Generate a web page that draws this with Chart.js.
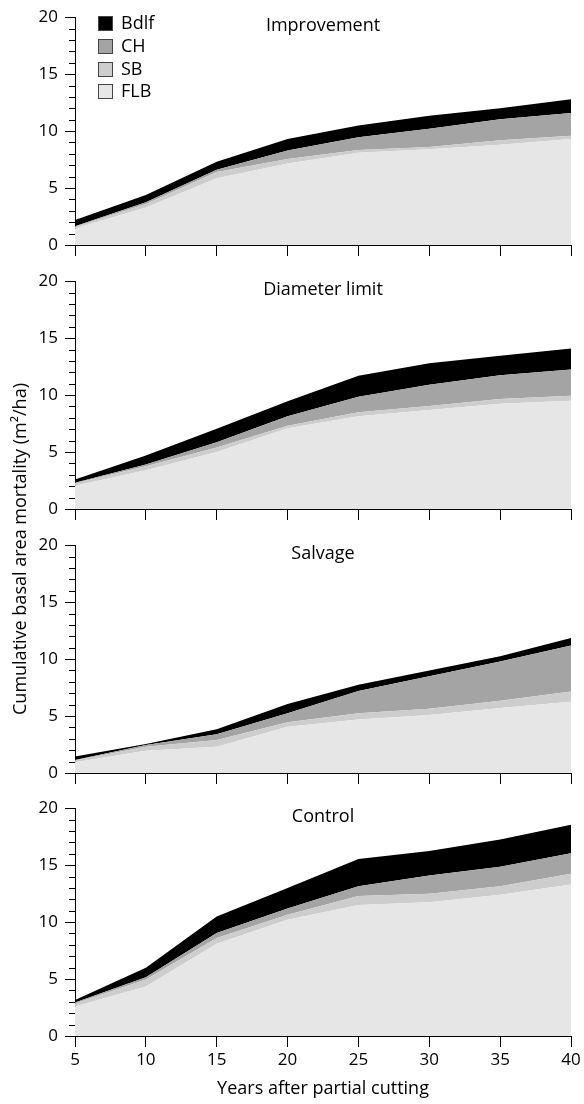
<!DOCTYPE html>
<html>
<head>
<meta charset="utf-8">
<script src="https://cdn.jsdelivr.net/npm/chart.js@4.4.1/dist/chart.umd.min.js"></script>
<style>
  html, body { margin: 0; padding: 0; background: #fff; }
  #wrap { position: relative; width: 584px; height: 1104px; overflow: hidden; }
  canvas { position: absolute; left: 0; }
  #ytitle {
    position: absolute; left: 19px; top: 549px;
    transform: translate(-50%, -50%) rotate(-90deg);
    white-space: nowrap; font-family: "Open Sans", sans-serif; font-size: 18px; color: #000;
  }
</style>
</head>
<body>
<div id="wrap">
  <canvas id="c0" width="584" height="264" style="top:0px"></canvas>
  <canvas id="c1" width="584" height="264" style="top:264px"></canvas>
  <canvas id="c2" width="584" height="264" style="top:528px"></canvas>
  <canvas id="c3" width="584" height="313" style="top:791px"></canvas>
  <div id="ytitle">Cumulative basal area mortality (m²/ha)</div>
</div>
<script>
// ---- Data ----
const years = [5, 10, 15, 20, 25, 30, 35, 40];
const seriesNames = ['FLB', 'SB', 'CH', 'Bdlf'];
const panelTitles = ['Improvement', 'Diameter limit', 'Salvage', 'Control'];

const improvementFLB  = [1.45, 3.3, 5.85, 7.15, 8.1, 8.4, 8.8, 9.3];
const improvementSB   = [0.15, 0.3, 0.55, 0.4, 0.25, 0.2, 0.4, 0.3];
const improvementCH   = [0.05, 0.15, 0.2, 0.75, 1.1, 1.6, 1.85, 2.0];
const improvementBdlf = [0.55, 0.65, 0.7, 1.0, 1.05, 1.15, 0.95, 1.2];

const diameterFLB  = [2.05, 3.4, 5.0, 7.1, 8.15, 8.7, 9.25, 9.5];
const diameterSB   = [0.2, 0.35, 0.4, 0.2, 0.35, 0.35, 0.4, 0.45];
const diameterCH   = [0.05, 0.15, 0.45, 0.85, 1.35, 1.85, 2.1, 2.3];
const diameterBdlf = [0.3, 0.8, 1.2, 1.3, 1.85, 1.9, 1.7, 1.85];

const salvageFLB  = [0.95, 1.95, 2.3, 4.05, 4.7, 5.1, 5.7, 6.25];
const salvageSB   = [0.15, 0.35, 0.6, 0.4, 0.55, 0.55, 0.65, 0.9];
const salvageCH   = [0.05, 0.15, 0.5, 0.8, 1.95, 2.85, 3.45, 4.05];
const salvageBdlf = [0.3, 0.1, 0.45, 0.8, 0.55, 0.5, 0.45, 0.65];

const controlFLB  = [2.6, 4.35, 8.1, 10.2, 11.5, 11.75, 12.4, 13.3];
const controlSB   = [0.25, 0.6, 0.5, 0.45, 0.8, 0.75, 0.75, 0.95];
const controlCH   = [0.1, 0.2, 0.45, 0.55, 0.85, 1.6, 1.7, 1.8];
const controlBdlf = [0.2, 0.85, 1.45, 1.8, 2.4, 2.15, 2.4, 2.5];

const yTicks = [0, 5, 10, 15, 20];
const xTicks = [5, 10, 15, 20, 25, 30, 35, 40];

const panels = [
  [improvementFLB, improvementSB, improvementCH, improvementBdlf],
  [diameterFLB, diameterSB, diameterCH, diameterBdlf],
  [salvageFLB, salvageSB, salvageCH, salvageBdlf],
  [controlFLB, controlSB, controlCH, controlBdlf]
];

const colors = ['#e6e6e6', '#cdcdcd', '#a4a4a4', '#000000'];
const FONT = '"Open Sans", sans-serif';

const panelTitlePlugin = {
  id: 'panelTitle',
  afterDraw(chart, args, opts) {
    const { ctx, chartArea } = chart;
    ctx.save();
    ctx.font = '18px ' + FONT;
    ctx.fillStyle = '#000';
    ctx.textAlign = 'center';
    ctx.textBaseline = 'alphabetic';
    ctx.fillText(opts.text, (chartArea.left + chartArea.right) / 2, chartArea.top + 14);
    ctx.restore();
  }
};

const minorTicksPlugin = {
  id: 'minorTicks',
  afterDraw(chart) {
    const y = chart.scales.y;
    const { ctx } = chart;
    ctx.save();
    ctx.strokeStyle = '#000';
    ctx.lineWidth = 1;
    for (let v = 0; v <= 20; v++) {
      if (v % 5 === 0) continue;
      const py = Math.round(y.getPixelForValue(v)) + 0.5;
      ctx.beginPath();
      ctx.moveTo(y.right - 6, py);
      ctx.lineTo(y.right, py);
      ctx.stroke();
    }
    ctx.restore();
  }
};

// Legend drawn inside the chart area (top-left), from the chart's own datasets
const insideLegendPlugin = {
  id: 'insideLegend',
  afterDraw(chart, args, opts) {
    if (!opts.show) return;
    const { ctx, chartArea } = chart;
    const ds = chart.data.datasets.slice().reverse();
    ctx.save();
    ctx.font = '18px ' + FONT;
    ctx.textBaseline = 'middle';
    ctx.textAlign = 'left';
    ds.forEach((d, r) => {
      const cy = chartArea.top + 6 + r * 22.7;
      const bx = chartArea.left + 23.5;
      const by = Math.round(cy - 7) + 0.5;
      ctx.fillStyle = d.backgroundColor;
      ctx.fillRect(bx, by, 14, 14);
      ctx.strokeStyle = '#444';
      ctx.lineWidth = 1;
      ctx.strokeRect(bx, by, 14, 14);
      ctx.fillStyle = '#000';
      ctx.fillText(d.label, chartArea.left + 46, cy + 1);
    });
    ctx.restore();
  }
};

panels.forEach((series, i) => {
  const isLast = i === panels.length - 1;
  const canvas = document.getElementById('c' + i);
  const datasets = series.map((vals, k) => ({
    label: seriesNames[k],
    data: years.map((yr, j) => ({ x: yr, y: vals[j] })),
    backgroundColor: colors[k],
    borderColor: colors[k],
    borderWidth: 0,
    pointRadius: 0,
    tension: 0,
    fill: k === 0 ? 'origin' : '-1'
  }));

  new Chart(canvas, {
    type: 'line',
    data: { datasets },
    plugins: [panelTitlePlugin, minorTicksPlugin, insideLegendPlugin],
    options: {
      responsive: false,
      animation: false,
      devicePixelRatio: 1,
      layout: { padding: { top: i === 0 ? 15 : 14, right: 13, left: 0, bottom: 0 } },
      plugins: {
        panelTitle: { text: panelTitles[i] },
        insideLegend: { show: i === 0 },
        tooltip: { enabled: false },
        legend: { display: false }
      },
      scales: {
        x: {
          type: 'linear',
          min: 5, max: 40,
          z: 1,
          afterBuildTicks(scale) { scale.ticks = xTicks.map(v => ({ value: v })); },
          afterFit(scale) { scale.height = isLast ? 68 : 19; },
          ticks: {
            display: isLast,
            color: '#000',
            padding: 3,
            maxRotation: 0,
            font: { family: FONT, size: 17 }
          },
          grid: { drawOnChartArea: false, drawTicks: true, tickLength: 11, color: '#000', lineWidth: 1 },
          border: { display: true, color: '#000', width: 1 },
          title: {
            display: isLast,
            text: 'Years after partial cutting',
            color: '#000',
            font: { family: FONT, size: 18 },
            padding: { top: 0, bottom: 4 }
          }
        },
        y: {
          stacked: true,
          min: 0, max: 20,
          z: 1,
          afterBuildTicks(scale) { scale.ticks = yTicks.map(v => ({ value: v })); },
          afterFit(scale) { scale.width = 75; },
          ticks: {
            color: '#000',
            padding: 7,
            font: { family: FONT, size: 17 }
          },
          grid: { drawOnChartArea: false, drawTicks: true, tickLength: 10, color: '#000', lineWidth: 1 },
          border: { display: true, color: '#000', width: 1 }
        }
      }
    }
  });
});
</script>
</body>
</html>
